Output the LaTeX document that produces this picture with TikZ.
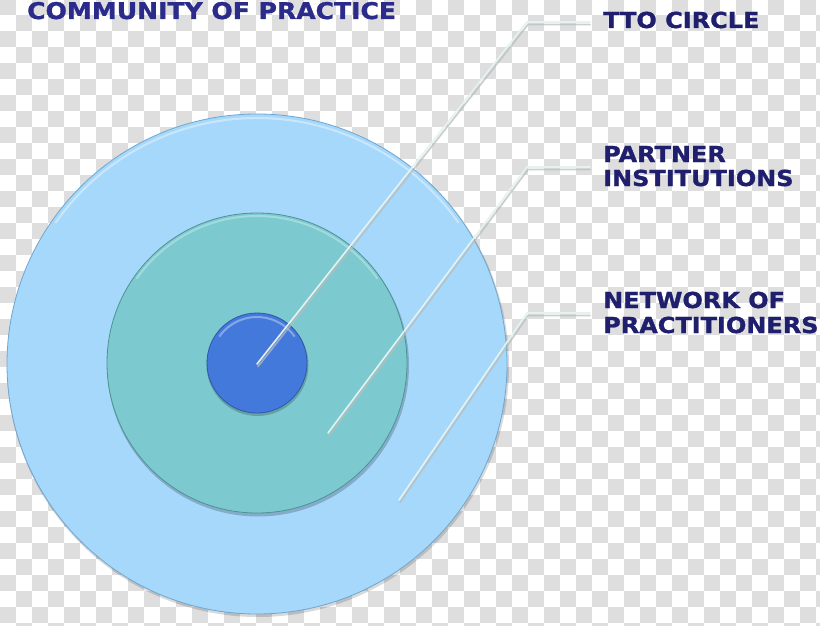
\documentclass[tikz,border=0pt]{standalone}
\usepackage{fontspec}
\setmainfont[BoldFeatures={FakeBold=1.2}]{DejaVu Sans}
\definecolor{chk}{HTML}{DEDEDE}
\definecolor{outerc}{HTML}{A6D8FB}
\definecolor{outeredge}{HTML}{6FA6CF}
\definecolor{midc}{HTML}{7CCACF}
\definecolor{midedge}{HTML}{4E9296}
\definecolor{innerc}{HTML}{4479DC}
\definecolor{inneredge}{HTML}{2F57A8}
\definecolor{titlec}{HTML}{2B2B8C}
\definecolor{labelc}{HTML}{1F1F6E}
\definecolor{linec}{HTML}{E4F2F2}
\definecolor{lineshadow}{HTML}{B8BCBC}
\newcommand{\widetext}[1]{\scalebox{1.09}[1]{#1}}
\tikzset{
  titletext/.style={font=\fontsize{23}{27}\selectfont\bfseries, text=titlec, inner sep=0pt, anchor=base west},
  labeltext/.style={font=\fontsize{22}{26}\selectfont\bfseries, text=labelc, inner sep=0pt, anchor=base west},
  disk/.style={circle, inner sep=0pt, outer sep=0pt},
  leader/.style={draw=linec, line width=1.6pt, line cap=round, line join=round},
  leadershadow/.style={draw=lineshadow, line width=1.8pt, line cap=round, line join=round, opacity=0.7},
}
\begin{document}
\begin{tikzpicture}[x=1pt,y=-1pt]
\useasboundingbox (0,0) rectangle (820,626);
% checkered background
\begin{scope}
\clip (0,0) rectangle (820,626);
\fill[white] (0,0) rectangle (820,626);
\foreach \k [evaluate=\k as \s using {mod(\k,2)*16}, evaluate=\k as \yy using {16*\k-1}] in {0,...,39}{
  \foreach \c in {0,32,...,832}{
    \fill[chk] (\c+\s,\yy) rectangle ++(16,16);
  }
}
\end{scope}
% title
\node[titletext] (title) at (27,19) {\widetext{COMMUNITY OF PRACTICE}};
% circles
\fill[black, opacity=0.15] (258,366) circle (251);
\node[disk, fill=outerc, draw=outeredge, line width=0.8pt, minimum size=500pt] (outer) at (257,364) {};
\draw[white, opacity=0.4, line width=2pt] (257,364) ++(215:246) arc (215:325:246);
\fill[black, opacity=0.2] (258,365.5) circle (151);
\node[disk, fill=midc, draw=midedge, line width=0.8pt, minimum size=300pt] (mid) at (257,363) {};
\draw[white, opacity=0.3, line width=2pt] (257,363) ++(215:147) arc (215:325:147);
\fill[black, opacity=0.2] (257.5,365) circle (51);
\node[disk, fill=innerc, draw=inneredge, line width=0.8pt, minimum size=100pt] (inner) at (257,363) {};
\draw[white, opacity=0.35, line width=2pt] (257,363) ++(215:46) arc (215:325:46);
% leader points
\coordinate (p1) at (257,364);
\coordinate (b1) at (527,22);
\coordinate (e1) at (590,22);
\coordinate (p2) at (328,433);
\coordinate (b2) at (527,167);
\coordinate (e2) at (590,167);
\coordinate (p3) at (399,500);
\coordinate (b3) at (527,313);
\coordinate (e3) at (590,313);
% leaders
\foreach \i in {1,2,3}{
  \draw[leadershadow] ([shift={(1,2.5)}]p\i) -- ([shift={(1,2.5)}]b\i) -- ([shift={(0,2.5)}]e\i);
  \draw[leader] (p\i) -- (b\i) -- (e\i);
}
% labels
\node[labeltext] (tto) at (603,28) {\widetext{TTO CIRCLE}};
\node[labeltext] (partnerA) at (603,162) {\widetext{PARTNER}};
\node[labeltext] (partnerB) at (603,186) {\widetext{INSTITUTIONS}};
\node[labeltext] (netA) at (603,308) {\widetext{NETWORK OF}};
\node[labeltext] (netB) at (603,333) {\widetext{PRACTITIONERS}};
\end{tikzpicture}
\end{document}
